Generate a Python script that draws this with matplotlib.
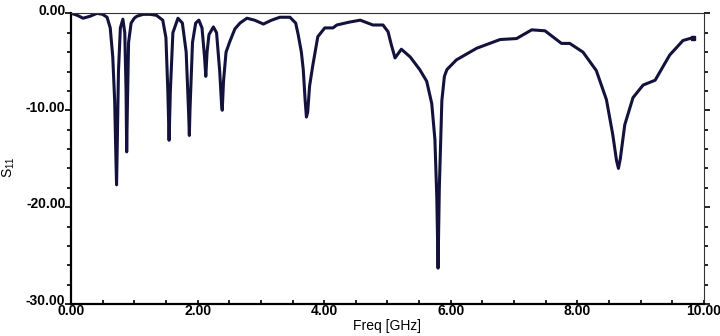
import matplotlib
matplotlib.use('Agg')
import matplotlib.pyplot as plt
import matplotlib.transforms as mtransforms
from matplotlib.ticker import MultipleLocator, FormatStrFormatter

# S11 trace (GHz, dB)
freq = [0.01, 0.10, 0.19, 0.30, 0.41, 0.50, 0.57, 0.62, 0.66, 0.69, 0.71, 0.72, 0.73, 0.75,
        0.78, 0.82, 0.85, 0.87, 0.88, 0.89, 0.91, 0.95, 1.00, 1.04, 1.14, 1.25, 1.35,
        1.45, 1.50, 1.53, 1.55, 1.57, 1.61, 1.69, 1.76, 1.82, 1.86, 1.87, 1.88, 1.92,
        1.97, 2.02, 2.07, 2.11, 2.13, 2.15, 2.18, 2.25, 2.30, 2.35, 2.38, 2.39, 2.41,
        2.45, 2.51, 2.59, 2.67, 2.78, 2.90, 3.04, 3.17, 3.30, 3.46, 3.55, 3.59, 3.64,
        3.67, 3.70, 3.72, 3.74, 3.77, 3.82, 3.90, 4.01, 4.14, 4.20, 4.40, 4.57, 4.77,
        4.93, 5.01, 5.06, 5.12, 5.22, 5.36, 5.51, 5.62, 5.70, 5.75, 5.78, 5.80, 5.82,
        5.86, 5.90, 5.94, 6.09, 6.41, 6.78, 7.04, 7.28, 7.49, 7.75, 7.88, 8.09, 8.30,
        8.46, 8.56, 8.62, 8.65, 8.68, 8.75, 8.88, 9.04, 9.23, 9.46, 9.67, 9.83]
s11 = [0.0, -0.2, -0.5, -0.3, 0.0, -0.1, -0.4, -1.5, -4.5, -9.0, -15.0, -17.7, -14.0, -6.0,
       -1.5, -0.6, -2.0, -8.0, -14.3, -10.0, -3.0, -1.0, -0.5, -0.3, -0.1, -0.1, -0.2,
       -0.7, -2.5, -8.0, -13.1, -8.0, -2.0, -0.5, -1.0, -4.0, -10.5, -12.6, -10.0, -3.0,
       -1.0, -0.7, -1.5, -4.5, -6.5, -4.0, -2.2, -1.4, -2.0, -6.0, -9.5, -10.0, -7.0,
       -4.0, -2.9, -1.6, -1.0, -0.5, -0.7, -1.1, -0.7, -0.4, -0.4, -1.0, -2.2, -4.0,
       -5.8, -9.0, -10.7, -10.2, -7.5, -5.4, -2.4, -1.5, -1.5, -1.2, -0.9, -0.7, -1.2,
       -1.2, -1.9, -3.2, -4.6, -3.7, -4.5, -5.8, -7.0, -9.3, -13.0, -19.0, -26.3, -18.0,
       -9.0, -6.5, -5.8, -4.8, -3.6, -2.7, -2.6, -1.7, -1.8, -3.1, -3.1, -4.0, -5.9,
       -8.9, -12.5, -15.2, -16.0, -15.0, -11.5, -8.7, -7.4, -6.9, -4.3, -2.8, -2.5]

fig = plt.figure(figsize=(7.2, 3.36), dpi=100)
ax = fig.add_axes([0.0986, 0.0952, 0.879, 0.865])

ax.plot(freq, s11, color='#12123c', lw=2.2, solid_joinstyle='round')
ax.plot(freq[-1], s11[-1], 's', color='#12123c', ms=3)

ax.set_xlim(0, 10)
ax.set_ylim(-30, 0)
ax.xaxis.set_major_locator(MultipleLocator(2))
ax.xaxis.set_minor_locator(MultipleLocator(0.5))
ax.yaxis.set_major_locator(MultipleLocator(10))
ax.yaxis.set_minor_locator(MultipleLocator(2))
ax.xaxis.set_major_formatter(FormatStrFormatter('%.2f'))
ax.yaxis.set_major_formatter(FormatStrFormatter('%.2f'))

ax.tick_params(axis='x', which='both', direction='in', length=3, width=1.2, pad=0,
               labelsize=10)
ax.tick_params(axis='y', which='both', direction='out', length=4, width=1.2, pad=0,
               labelsize=10, right=True)
ax.tick_params(axis='y', which='minor', length=3)

fig.canvas.draw()
shift_up = mtransforms.ScaledTranslation(0, 3 / 72, fig.dpi_scale_trans)
for lab in ax.get_xticklabels() + ax.get_yticklabels():
    lab.set_fontfamily('Liberation Sans')
    lab.set_fontweight('bold')
for lab in ax.get_yticklabels():
    lab.set_transform(lab.get_transform() + shift_up)

ax.spines['left'].set_linewidth(1.6)
ax.spines['bottom'].set_linewidth(1.6)
ax.spines['top'].set_linewidth(0.8)
ax.spines['right'].set_linewidth(0.8)
ax.spines['top'].set_color('#333333')
ax.spines['right'].set_color('#333333')

ax.set_xlabel('Freq [GHz]', family='Liberation Sans', fontsize=10, labelpad=1)
ax.set_ylabel('$\\mathregular{S_{11}}$', family='Liberation Sans', fontsize=10)
ax.yaxis.set_label_coords(-0.085, 0.47)

fig.savefig('out.png', dpi=100)
